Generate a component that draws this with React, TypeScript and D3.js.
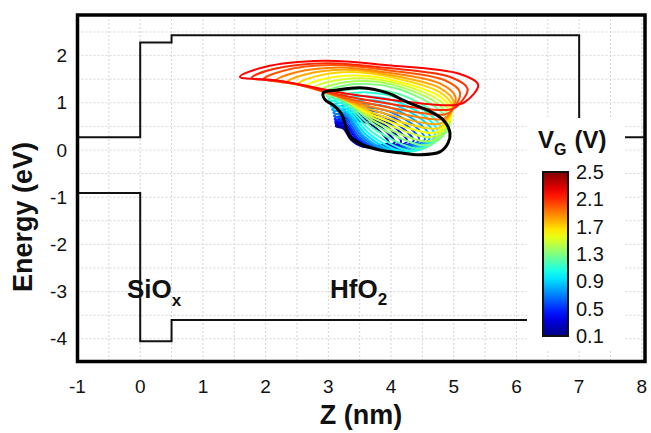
import React from 'react';
import * as d3 from 'd3';

// band diagram (Z in nm, energy in eV)
const cbZ = [-1, 0, 0, 0.5, 0.5, 7, 7, 8.05];
const cbE = [0.27, 0.27, 2.28, 2.28, 2.43, 2.43, 0.27, 0.27];
const vbZ = [-1, 0, 0, 0.5, 0.5, 7];
const vbE = [-0.91, -0.91, -4.05, -4.05, -3.6, -3.6];

// contour levels, one loop per gate voltage
const vgLevels = [0.1, 0.2, 0.3, 0.4, 0.5, 0.6, 0.7, 0.8, 0.9, 1.0, 1.1, 1.2, 1.3, 1.4, 1.5, 1.6, 1.7, 1.8, 1.9, 2.0, 2.1, 2.2];
const tipZ = [3.12, 3.12, 3.11, 3.11, 3.1, 3.09, 3.08, 3.06, 3.04, 3.02, 3.0, 2.97, 2.93, 2.87, 2.78, 2.66, 2.52, 2.35, 2.17, 1.97, 1.78, 1.59];
const tipE = [0.5, 0.53, 0.57, 0.61, 0.66, 0.72, 0.79, 0.86, 0.93, 1.0, 1.08, 1.15, 1.22, 1.27, 1.32, 1.36, 1.4, 1.44, 1.47, 1.5, 1.53, 1.55];
const topE = [0.62, 0.65, 0.69, 0.73, 0.78, 0.84, 0.9, 0.98, 1.06, 1.14, 1.22, 1.3, 1.4, 1.46, 1.52, 1.58, 1.65, 1.7, 1.75, 1.8, 1.84, 1.89];
const rightZ = [3.96, 4.06, 4.16, 4.26, 4.36, 4.45, 4.54, 4.62, 4.7, 4.76, 4.82, 4.88, 4.93, 4.95, 4.96, 4.97, 4.98, 5.0, 5.03, 5.1, 5.22, 5.39];
const rightE = [0.16, 0.16, 0.17, 0.18, 0.19, 0.21, 0.23, 0.26, 0.29, 0.33, 0.38, 0.44, 0.52, 0.62, 0.72, 0.82, 0.92, 1.02, 1.12, 1.22, 1.3, 1.38];
const bottomZ = [3.55, 3.6, 3.66, 3.72, 3.78, 3.85, 3.92, 4.0, 4.1, 4.2, 4.3, 4.4, 4.5, 4.55, 4.6, 4.65, 4.7, 4.75, 4.8, 4.85, 4.9, 5.0];
const bottomE = [0.07, 0.06, 0.05, 0.04, 0.02, 0.0, -0.01, -0.03, -0.04, -0.04, -0.02, 0.03, 0.1, 0.18, 0.27, 0.36, 0.45, 0.55, 0.65, 0.75, 0.85, 0.95];

// the highlighted black contour
const blackZ = [2.92, 3.14, 3.51, 3.94, 4.25, 4.57, 4.83, 4.94, 4.91, 4.78, 4.46, 4.14, 3.82, 3.55, 3.35, 3.27, 3.22, 3.07, 2.95];
const blackE = [1.21, 1.27, 1.32, 1.21, 1.02, 0.85, 0.64, 0.36, 0.15, -0.04, -0.1, -0.06, 0.0, 0.11, 0.28, 0.53, 0.74, 0.96, 1.06];

const xTicks = [-1, 0, 1, 2, 3, 4, 5, 6, 7, 8];
const yTicks = [-4, -3, -2, -1, 0, 1, 2];
const cbarTicks = [0.1, 0.5, 0.9, 1.3, 1.7, 2.1, 2.5];

const W = 651;
const H = 433;
const font = '"Liberation Sans", Arial, Helvetica, sans-serif';

const x = d3.scaleLinear().domain([-1, 8.05]).range([77.5, 645]);
const y = d3.scaleLinear().domain([-4.48, 2.86]).range([361.5, 15]);
const cScale = d3.scaleLinear().domain([0.1, 2.5]).range([336, 172]);

function jet(t: number) {
	const c = (v: number) => Math.max(0, Math.min(1, v));
	return d3
		.rgb(255 * c(1.5 - Math.abs(4 * t - 3)), 255 * c(1.5 - Math.abs(4 * t - 2)), 255 * c(1.5 - Math.abs(4 * t - 1)))
		.formatHex();
}
const colorOf = (v: number) => jet((v - 0.1) / 2.4);

// build one loop outline from its read-off extremes
function loopPoints(i: number): [number, number][] {
	const tx = tipZ[i], ty = tipE[i], top = topE[i];
	const rx = rightZ[i], ry = rightE[i], bx = bottomZ[i], by = bottomE[i];
	const w = rx - tx;
	const h = top - by;
	return [
		[tx, ty],
		[tx + 0.1 * w, ty + 0.6 * (top - ty)],
		[tx + 0.35 * w, top],
		[tx + 0.62 * w, top - 0.1 * h],
		[rx - 0.08 * w, ry + 0.25 * h],
		[rx, ry],
		[bx + 0.45 * (rx - bx), by + 0.15 * (ry - by)],
		[bx, by],
		[bx - 0.45 * (bx - tx), by + 0.35 * (ty - by)],
		[tx + 0.15 * w, ty - 0.12 * (ty - by)]
	];
}

const loopLine = d3
	.line<[number, number]>()
	.x(d => x(d[0]))
	.y(d => y(d[1]))
	.curve(d3.curveCatmullRomClosed.alpha(0.5));

const stepLine = d3
	.line<[number, number]>()
	.x(d => x(d[0]))
	.y(d => y(d[1]));

export default function App() {
	const [x0, x1] = x.range();
	const [y0, y1] = y.range();
	const gridXs = d3.range(-0.5, 8.01, 0.5);
	const gridYs = d3.range(-4, 2.51, 0.5);
	const gradStops = d3.range(0, 1.0001, 0.05);

	return (
		<svg width={W} height={H} style={{ position: 'absolute', left: 0, top: 0, display: 'block', background: '#fff' }} fontFamily={font}>
			<defs>
				<linearGradient id="jetbar" x1="0" y1="1" x2="0" y2="0">
					{gradStops.map(t => (
						<stop key={t} offset={t} stopColor={jet(t)} />
					))}
				</linearGradient>
			</defs>

			{/* dotted grid */}
			<g stroke="#d4d4d4" strokeWidth={1} strokeDasharray="2,2">
				{gridXs.map(v => (
					<line key={'gx' + v} x1={x(v)} x2={x(v)} y1={y1} y2={y0} />
				))}
				{gridYs.map(v => (
					<line key={'gy' + v} x1={x0} x2={x1} y1={y(v)} y2={y(v)} />
				))}
			</g>

			{/* band edges */}
			<path d={stepLine(cbZ.map((z, i) => [z, cbE[i]]) as [number, number][]) || ''} fill="none" stroke="#111" strokeWidth={2} />
			<path d={stepLine(vbZ.map((z, i) => [z, vbE[i]]) as [number, number][]) || ''} fill="none" stroke="#111" strokeWidth={2} />

			{/* contour loops */}
			<g fill="none" strokeWidth={2}>
				{vgLevels.map((v, i) => (
					<path key={v} d={loopLine(loopPoints(i)) || ''} stroke={colorOf(v)} />
				))}
			</g>
			<path
				d={loopLine(blackZ.map((z, i) => [z, blackE[i]]) as [number, number][]) || ''}
				fill="none"
				stroke="#000"
				strokeWidth={3}
			/>

			{/* layer labels */}
			<text x={127} y={298} fontSize={26} fontWeight="bold" fill="#111">
				SiO<tspan fontSize={17} dy={8}>x</tspan>
			</text>
			<text x={330} y={298} fontSize={26} fontWeight="bold" fill="#111">
				HfO<tspan fontSize={17} dy={7}>2</tspan>
			</text>

			{/* legend */}
			<rect x={527} y={118} width={98} height={233} fill="#fff" />
			<text x={538} y={148} fontSize={24} fontWeight="bold" fill="#111">
				V<tspan fontSize={16} dy={7}>G</tspan>
				<tspan dy={-7} dx={8}>(V)</tspan>
			</text>
			<rect x={543} y={172} width={25} height={164} fill="url(#jetbar)" stroke="#111" strokeWidth={2} />
			{cbarTicks.map(t => (
				<text key={t} x={576} y={cScale(t)} dy="0.35em" fontSize={20} fill="#111">
					{t.toFixed(1)}
				</text>
			))}

			{/* frame */}
			<rect x={x0} y={y1} width={x1 - x0} height={y0 - y1} fill="none" stroke="#000" strokeWidth={3.5} />

			{/* ticks */}
			{xTicks.map(t => (
				<text key={'xt' + t} x={x(t)} y={393} textAnchor="middle" fontSize={19} fill="#111">
					{t}
				</text>
			))}
			{yTicks.map(t => (
				<text key={'yt' + t} x={67} y={y(t)} dy="0.35em" textAnchor="end" fontSize={19} fill="#111">
					{t}
				</text>
			))}

			{/* axis titles */}
			<text x={361} y={424} textAnchor="middle" fontSize={27} fontWeight="bold" fill="#111">
				Z (nm)
			</text>
			<text transform="translate(32,217) rotate(-90)" textAnchor="middle" fontSize={27} fontWeight="bold" fill="#111">
				Energy (eV)
			</text>
		</svg>
	);
}
